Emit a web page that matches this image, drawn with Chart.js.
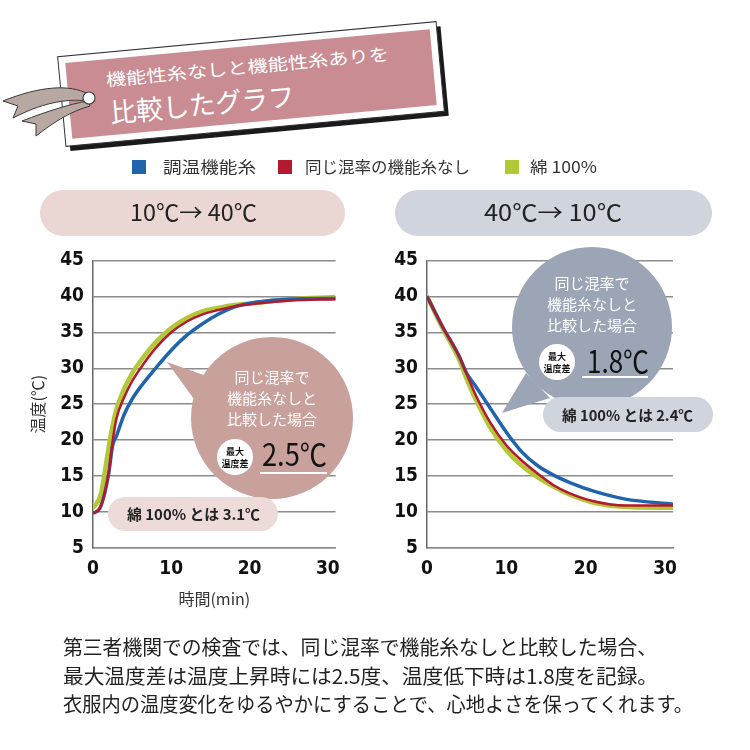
<!DOCTYPE html>
<html lang="ja">
<head>
<meta charset="utf-8">
<title>機能性糸なしと機能性糸ありを比較したグラフ</title>
<script src="https://cdn.jsdelivr.net/npm/chart.js@4.4.1/dist/chart.umd.min.js"></script>
<style>
    body { margin: 0; background: #fff; }
    #page {
        position: relative;
        width: 750px;
        height: 750px;
        overflow: hidden;
        background: #fff;
        font-family: 'Noto Sans CJK JP', sans-serif;
    }
    .chart-box { position: absolute; top: 240px; height: 380px; }
    #heatBox { left: 0; width: 350px; }
    #coolBox { left: 360px; width: 330px; }
    #deco { position: absolute; left: 0; top: 0; pointer-events: none; }
</style>
</head>
<body>
<div id="page">
    <div class="chart-box" id="heatBox"><canvas id="heatChart"></canvas></div>
    <div class="chart-box" id="coolBox"><canvas id="coolChart"></canvas></div>

    <svg id="deco" width="750" height="750" xmlns="http://www.w3.org/2000/svg"
         font-family="'Noto Sans CJK JP', sans-serif">
        <!-- title tag -->
        <g transform="rotate(-5.3 251 84)">
            <rect x="65" y="44" width="380" height="90" fill="#1a1a1a"/>
            <rect x="61" y="39" width="380" height="90" fill="#fff" stroke="#333" stroke-width="1"/>
            <rect x="68" y="46" width="366" height="76" fill="#c98c93"/>
            <text x="107" y="73" font-size="17" fill="#fff" textLength="284" lengthAdjust="spacingAndGlyphs">機能性糸なしと機能性糸ありを</text>
            <text x="108" y="110" font-size="27" fill="#fff" textLength="185" lengthAdjust="spacingAndGlyphs">比較したグラフ</text>
        </g>
        <path d="M 88 94 C 70 84, 40 86, 3 101 L 18 106 L 13 118 C 40 104, 65 98, 88 101 Z" fill="#b8a8a2" stroke="#3a3a3a" stroke-width="1"/>
        <path d="M 88 101 C 70 104, 48 111, 22 121 L 36 124 L 36 136 C 55 121, 72 111, 90 106 Z" fill="#b8a8a2" stroke="#3a3a3a" stroke-width="1"/>
        <circle cx="89" cy="98" r="6" fill="#fff" stroke="#444" stroke-width="1.2"/>

        <!-- legend -->
        <rect x="132" y="160" width="14" height="14" fill="#1f64ad"/>
        <text x="163" y="173" font-size="16" fill="#333" textLength="93" lengthAdjust="spacingAndGlyphs">調温機能糸</text>
        <rect x="278" y="160" width="14" height="14" fill="#b3192f"/>
        <text x="305" y="173" font-size="16" fill="#333" textLength="165" lengthAdjust="spacingAndGlyphs">同じ混率の機能糸なし</text>
        <rect x="505" y="160" width="14" height="14" fill="#b3c837"/>
        <text x="530" y="173" font-size="16" fill="#333" textLength="67" lengthAdjust="spacingAndGlyphs">綿 100%</text>

        <!-- condition pills -->
        <rect x="40" y="190" width="305" height="46" rx="23" fill="#ead6d3"/>
        <text x="130" y="221" font-size="23" fill="#222" textLength="127" lengthAdjust="spacingAndGlyphs">10℃→ 40℃</text>
        <rect x="395" y="190" width="317" height="46" rx="23" fill="#d0d4dd"/>
        <text x="484" y="221" font-size="23" fill="#222" textLength="138" lengthAdjust="spacingAndGlyphs">40℃→ 10℃</text>

        <!-- left callout -->
        <polygon points="167,362 212,378 199,406" fill="#c8a09c"/>
        <circle cx="272" cy="418" r="81" fill="#c8a09c"/>
        <g fill="#fff" font-size="15" text-anchor="middle">
            <text x="272" y="383">同じ混率で</text>
            <text x="272" y="404">機能糸なしと</text>
            <text x="272" y="425">比較した場合</text>
        </g>
        <circle cx="235" cy="457" r="18" fill="#fff"/>
        <g fill="#111" font-size="9" font-weight="bold" text-anchor="middle">
            <text x="235" y="455">最大</text>
            <text x="235" y="467">温度差</text>
        </g>
        <text x="262" y="466" font-size="31" fill="#111" textLength="65" lengthAdjust="spacingAndGlyphs">2.5℃</text>
        <line x1="260" y1="473" x2="327" y2="473" stroke="#fff" stroke-width="2"/>
        <rect x="108" y="497" width="170" height="34" rx="17" fill="#ecdbd9"/>
        <text x="127" y="520" font-size="15" font-weight="bold" fill="#222" textLength="133" lengthAdjust="spacingAndGlyphs">綿 100% とは 3.1℃</text>

        <!-- right callout -->
        <polygon points="502,413 526,373 550,398" fill="#9ba5b5"/>
        <circle cx="592" cy="327" r="80" fill="#9ba5b5"/>
        <g fill="#fff" font-size="15" text-anchor="middle">
            <text x="592" y="289">同じ混率で</text>
            <text x="592" y="310">機能糸なしと</text>
            <text x="592" y="331">比較した場合</text>
        </g>
        <circle cx="557" cy="362" r="18" fill="#fff"/>
        <g fill="#111" font-size="9" font-weight="bold" text-anchor="middle">
            <text x="557" y="360">最大</text>
            <text x="557" y="372">温度差</text>
        </g>
        <text x="587" y="373" font-size="31" fill="#111" textLength="62" lengthAdjust="spacingAndGlyphs">1.8℃</text>
        <line x1="582" y1="377" x2="648" y2="377" stroke="#fff" stroke-width="2"/>
        <rect x="543" y="397" width="170" height="35" rx="17.5" fill="#d0d4dc"/>
        <text x="562" y="421" font-size="15" font-weight="bold" fill="#222" textLength="131" lengthAdjust="spacingAndGlyphs">綿 100% とは 2.4℃</text>

        <!-- note -->
        <g fill="#222" font-size="20">
            <text x="63" y="655" textLength="594" lengthAdjust="spacingAndGlyphs">第三者機関での検査では、同じ混率で機能糸なしと比較した場合、</text>
            <text x="63" y="684" textLength="595" lengthAdjust="spacingAndGlyphs">最大温度差は温度上昇時には2.5度、温度低下時は1.8度を記録。</text>
            <text x="63" y="712" textLength="630" lengthAdjust="spacingAndGlyphs">衣服内の温度変化をゆるやかにすることで、心地よさを保ってくれます。</text>
        </g>
    </svg>
</div>

<script>
// series names
const SERIES = ['調温機能糸', '同じ混率の機能糸なし', '綿 100%'];
const COLORS = ['#1f64ad', '#b3192f', '#b3c837'];

// 10℃ → 40℃ (minutes / ℃)
const HEAT_TIME   = [0, 1, 2, 2.5, 3, 4, 5, 6, 8, 10, 12, 14, 16, 18, 21, 25, 31];
const HEAT_BLUE   = [9.8, 10.8, 15.3, 19.2, 20.6, 23.6, 25.7, 27.3, 30.0, 32.5, 34.6, 36.2, 37.5, 38.5, 39.2, 39.6, 39.7];
const HEAT_RED    = [9.8, 10.8, 15.5, 19.8, 23.0, 26.0, 28.2, 29.9, 32.8, 35.0, 36.5, 37.5, 38.1, 38.6, 39.0, 39.4, 39.6];
const HEAT_COTTON = [10.5, 12.5, 19.0, 22.0, 24.3, 27.2, 29.3, 30.9, 33.6, 35.6, 37.0, 37.9, 38.4, 38.8, 39.1, 39.6, 39.9];

// 40℃ → 10℃
const COOL_TIME   = [0, 2, 4, 5, 6, 8, 10, 12, 14, 16, 18, 21, 25, 31];
const COOL_BLUE   = [40.0, 35.7, 31.8, 29.3, 27.7, 24.4, 21.1, 18.3, 16.4, 15.1, 14.1, 12.9, 11.8, 11.1];
const COOL_RED    = [40.0, 35.7, 31.8, 29.2, 26.6, 22.4, 19.3, 17.1, 15.3, 13.7, 12.6, 11.5, 10.9, 10.9];
const COOL_COTTON = [40.0, 35.5, 31.3, 28.5, 26.0, 21.7, 18.6, 16.4, 14.8, 13.5, 12.4, 11.3, 10.7, 10.6];

const X_TICKS = [0, 10, 20, 30];
const Y_TICKS = [5, 10, 15, 20, 25, 30, 35, 40, 45];

const TICK_FONT = {
    family: "'Liberation Sans Narrow', 'DejaVu Sans Condensed', Roboto, sans-serif",
    size: 19,
    weight: 'bold'
};
const GRID = '#8c8c8c';

function toPoints(times, values) {
    return times.map((t, i) => ({ x: t, y: values[i] }));
}

function renderTempChart(id, times, series, opts) {
    const ctx = document.getElementById(id);
    if (!ctx) return null;

    const widths = [3.5, 2.5, 4.5];
    const order = [2, 1, 3];

    return new Chart(ctx, {
        type: 'line',
        data: {
            datasets: series.map((values, i) => ({
                label: SERIES[i],
                data: toPoints(times, values),
                borderColor: COLORS[i],
                backgroundColor: COLORS[i],
                borderWidth: widths[i],
                pointRadius: 0,
                fill: false,
                cubicInterpolationMode: 'monotone',
                order: order[i]
            }))
        },
        options: {
            responsive: true,
            maintainAspectRatio: false,
            animation: false,
            events: [],
            layout: {
                padding: { top: 17, right: opts.padRight, bottom: 0, left: 0 }
            },
            plugins: {
                legend: { display: false },
                tooltip: { enabled: false }
            },
            scales: {
                x: {
                    type: 'linear',
                    min: 0,
                    max: 31,
                    afterBuildTicks: scale => { scale.ticks = X_TICKS.map(v => ({ value: v })); },
                    afterFit: scale => { scale.height = 72; },
                    grid: { display: false, drawTicks: false },
                    border: { display: true, color: GRID, width: 1.5 },
                    ticks: { padding: 10, color: '#111', font: TICK_FONT, maxRotation: 0 },
                    title: {
                        display: opts.xTitle,
                        text: '時間(min)',
                        color: '#333',
                        font: { family: "'Noto Sans CJK JP', sans-serif", size: 16 },
                        padding: { top: 0, bottom: 11 }
                    }
                },
                y: {
                    min: 5,
                    max: 45,
                    afterBuildTicks: scale => { scale.ticks = Y_TICKS.map(v => ({ value: v })); },
                    afterFit: scale => { scale.width = opts.yWidth; },
                    grid: { color: GRID, lineWidth: 1.5, drawTicks: false },
                    border: { color: '#666', width: 1.5 },
                    ticks: { padding: 9, color: '#111', font: TICK_FONT },
                    title: {
                        display: opts.yTitle,
                        text: '温度(℃)',
                        color: '#333',
                        font: { family: "'Noto Sans CJK JP', sans-serif", size: 16 },
                        padding: { top: 28, bottom: 0 }
                    }
                }
            }
        }
    });
}

renderTempChart('heatChart', HEAT_TIME, [HEAT_BLUE, HEAT_RED, HEAT_COTTON],
    { padRight: 10, yWidth: 93, xTitle: true, yTitle: true });
renderTempChart('coolChart', COOL_TIME, [COOL_BLUE, COOL_RED, COOL_COTTON],
    { padRight: 17, yWidth: 67, xTitle: false, yTitle: false });
</script>
</body>
</html>
